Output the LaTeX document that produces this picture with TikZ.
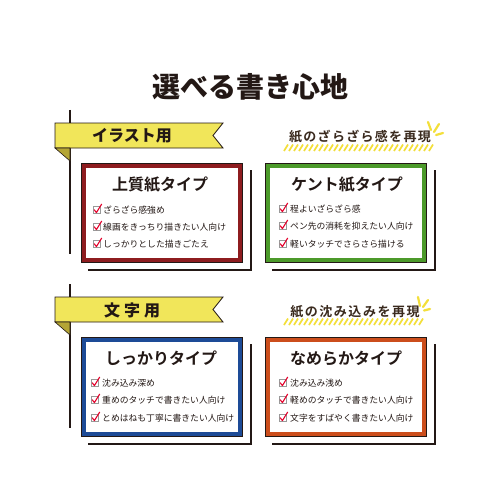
\documentclass[tikz,border=0pt]{standalone}
\usepackage{fontspec}
\newfontfamily\jp[BoldFont={Noto Sans CJK JP Bold}]{Noto Sans CJK JP}
\newfontfamily\jpblack{Noto Sans CJK JP Black}
\definecolor{ink}{HTML}{231815}
\definecolor{hand}{HTML}{3A2A1E}
\definecolor{banY}{HTML}{F1E65A}
\definecolor{banF}{HTML}{B4A535}
\definecolor{cRed}{HTML}{8E1C1F}
\definecolor{cGreen}{HTML}{4C9A2A}
\definecolor{cBlue}{HTML}{1D4B97}
\definecolor{cOrange}{HTML}{CC4E1C}
\definecolor{chk}{HTML}{E4002B}
\definecolor{stripe}{HTML}{F3DF3A}
\begin{document}
\begin{tikzpicture}[x=1pt,y=-1pt,
  box/.style={draw=ink, double=#1, double distance=4, line width=0.7, fill=white,
    minimum width=156.6, minimum height=94.6, inner sep=0},
  shadowline/.style={draw=ink, line width=1.4},
  vline/.style={draw=ink, line width=1.4},
  banner/.style={fill=banY, draw=ink, line width=0.8, line join=miter},
  fold/.style={fill=banF, draw=ink, line width=0.6},
  bantext/.style={font=\jpblack\fontsize{16}{16}\selectfont, text=ink, inner sep=0},
  boxtitle/.style={font=\jp\bfseries\fontsize{16}{16}\selectfont, text=ink, inner sep=0},
  item/.style={font=\jp\fontsize{8.8}{8.8}\selectfont, text=ink, inner sep=0, anchor=west},
  hand/.style={font=\jp\bfseries\fontsize{13}{13}\selectfont, text=hand, inner sep=0},
  stripeline/.style={draw=stripe, line width=1.7},
  spark/.style={draw=stripe, line width=2.2, line cap=round},
  cbox/.pic={
    \draw[gray!80, line width=0.7, fill=white] (-3.5,-3.5) rectangle (3.5,3.5);
    \draw[chk, line width=1.1, line cap=round, line join=round] (-2.8,-0.3) -- (-0.6,2.6) -- (4.6,-5.8);
  }]
\useasboundingbox[fill=white] (0,0) rectangle (500,500);

% title
\node[font=\jpblack\fontsize{28}{28}\selectfont, text=ink, inner sep=0] (title) at (250,87) {選べる書き心地};

% ===== section 1 =====
\draw[vline] (70,110) -- (70,254);
\draw[banner] (55,123) -- (223,123) -- (213,135.5) -- (223,148) -- (55,148) -- cycle;
\draw[fold] (55,148) -- (70,148) -- (70,161) -- cycle;
\node[bantext] (ban1) at (132,136) {イラスト用};

\node[hand] (h1) at (360,137) {\addfontfeature{LetterSpace=10}紙のざらざら感を再現};
\foreach \x in {284,289,...,430} \draw[stripeline] (\x,151) -- (\x+4,144.5);
\draw[spark] (428,122) -- (431,130);
\draw[spark] (439,124) -- (434,132);
\draw[spark] (443,133) -- (436,135);

% box red
\draw[shadowline] (88,270) -- (251,270) -- (251,170);
\node[box=cRed] (b1) at (162,213) {};
\node[boxtitle] (t1) at (160,185) {上質紙タイプ};
\pic at (97,210) {cbox};
\node[item] (i11) at (103,210) {ざらざら感強め};
\pic at (97,227) {cbox};
\node[item] (i12) at (103,227) {線画をきっちり描きたい人向け};
\pic at (97,244) {cbox};
\node[item] (i13) at (103,244) {しっかりとした描きごたえ};

% box green
\draw[shadowline] (272,270) -- (435,270) -- (435,170);
\node[box=cGreen] (b2) at (346,213) {};
\node[boxtitle] (t2) at (347,185) {ケント紙タイプ};
\pic at (283,209) {cbox};
\node[item] (i21) at (290,209) {程よいざらざら感};
\pic at (283,226) {cbox};
\node[item] (i22) at (290,226) {ペン先の消耗を抑えたい人向け};
\pic at (283,244) {cbox};
\node[item] (i23) at (290,244) {軽いタッチでさらさら描ける};

% ===== section 2 =====
\draw[vline] (70,284) -- (70,428);
\draw[banner] (55,297) -- (223,297) -- (213,309.5) -- (223,322) -- (55,322) -- cycle;
\draw[fold] (55,322) -- (70,322) -- (70,335) -- cycle;
\node[bantext] (ban2) at (132,310) {\addfontfeature{LetterSpace=25}文字用};

\node[hand] (h2) at (355,312) {\addfontfeature{LetterSpace=12}紙の沈み込みを再現};
\foreach \x in {284,289,...,420} \draw[stripeline] (\x,325) -- (\x+4,318.5);
\draw[spark] (418,297) -- (420,306);
\draw[spark] (428,300) -- (423,307);
\draw[spark] (430,309) -- (424,310.5);

% box blue
\draw[shadowline] (88,444) -- (251,444) -- (251,344);
\node[box=cBlue] (b3) at (162,387) {};
\node[boxtitle] (t3) at (161,358) {しっかりタイプ};
\pic at (95,383) {cbox};
\node[item] (i31) at (102,383) {沈み込み深め};
\pic at (95,400) {cbox};
\node[item] (i32) at (102,400) {重めのタッチで書きたい人向け};
\pic at (95,418) {cbox};
\node[item] (i33) at (102,418) {とめはねも丁寧に書きたい人向け};

% box orange
\draw[shadowline] (272,444) -- (435,444) -- (435,344);
\node[box=cOrange] (b4) at (346,387) {};
\node[boxtitle] (t4) at (346,358) {なめらかタイプ};
\pic at (283,383) {cbox};
\node[item] (i41) at (290,383) {沈み込み浅め};
\pic at (283,400) {cbox};
\node[item] (i42) at (290,400) {軽めのタッチで書きたい人向け};
\pic at (283,418) {cbox};
\node[item] (i43) at (290,418) {文字をすばやく書きたい人向け};
\end{tikzpicture}
\end{document}
